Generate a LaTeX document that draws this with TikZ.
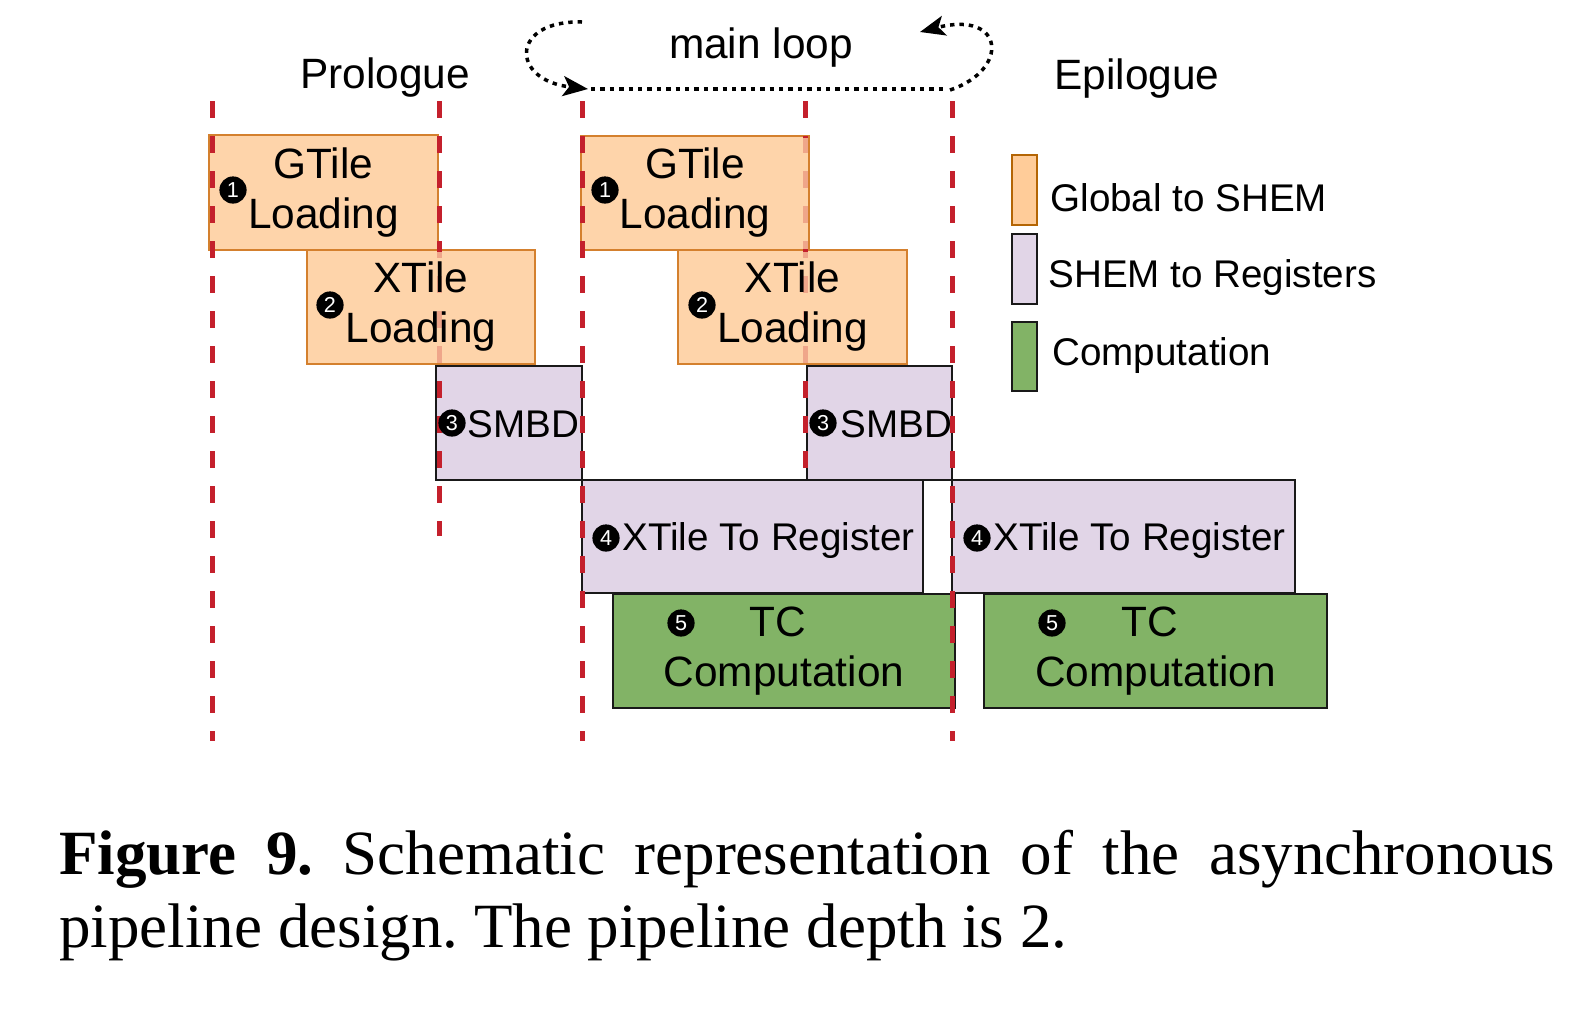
\documentclass[tikz,border=0pt]{standalone}
\usepackage{fontspec}
\setmainfont{Liberation Serif}
\newfontfamily\arialf{Liberation Sans}
\usetikzlibrary{arrows.meta,fit}
\definecolor{ofill}{RGB}{254,212,170}
\definecolor{odraw}{RGB}{212,128,46}
\definecolor{lofill}{RGB}{255,204,153}
\definecolor{lodraw}{RGB}{180,101,4}
\definecolor{pfill}{RGB}{225,213,231}
\definecolor{gfill}{RGB}{130,179,102}
\definecolor{rline}{RGB}{196,32,44}
\pgfdeclarelayer{lines}
\pgfdeclarelayer{top}
\pgfsetlayers{main,lines,top}
\frenchspacing
\begin{document}
\begin{tikzpicture}[x=0.5pt,y=-0.5pt,
  obox/.style={draw=odraw, fill=ofill, line width=1pt, inner sep=0pt},
  pbox/.style={draw=black!90, fill=pfill, line width=1.2pt, inner sep=0pt},
  gbox/.style={draw=black!90, fill=gfill, line width=1.2pt, inner sep=0pt},
  bigtxt/.style={font=\arialf\fontsize{21.2}{25}\selectfont, align=center, inner sep=0pt},
  midtxt/.style={font=\arialf\fontsize{19.3}{23}\selectfont, inner sep=0pt},
  numc/.style={circle, fill=black, text=white, minimum size=13.6pt, inner sep=0pt, font=\arialf\fontsize{10.8}{12}\selectfont},
  redline/.style={draw=rline, line width=2.5pt, dash pattern=on 8.5pt off 9pt},
  fade/.style={fill=ofill, fill opacity=0.75, draw=none},
  loopline/.style={line width=1.75pt, dash pattern=on 2.2pt off 2.5pt},
  looptip/.style={-{Stealth[length=12.5pt,width=10pt,inset=3pt]}},
  captxt/.style={anchor=base west, inner sep=0pt, font=\frenchspacing\fontsize{31.5}{37}\selectfont}
]
\useasboundingbox (0,0) rectangle (1596,1008);
\fill[white] (0,0) rectangle (1596,1008);

% boxes
\node[obox, fit={(209,135)(438,250)}] (g1) {};
\node[obox, fit={(307,250)(535,364)}] (x1) {};
\node[pbox, fit={(436,366)(582,480)}] (s1) {};
\node[pbox, fit={(582,480)(923,593)}] (r1) {};
\node[gbox, fit={(613,594)(955,708)}] (t1) {};
\node[obox, fit={(581,136)(809,250)}] (g2) {};
\node[obox, fit={(678,250)(907,364)}] (x2) {};
\node[pbox, fit={(807,366)(952,480)}] (s2) {};
\node[pbox, fit={(952,480)(1295,593)}] (r2) {};
\node[gbox, fit={(984,594)(1327,708)}] (t2) {};

% legend boxes
\node[obox, draw=lodraw, fill=lofill, fit={(1012,155)(1037,225)}] (lg1) {};
\node[pbox, fit={(1012,234)(1037,304)}] (lg2) {};
\node[gbox, fit={(1012,322)(1037,391)}] (lg3) {};

\begin{pgfonlayer}{lines}
\coordinate (d1t) at (212,101); \coordinate (d1b) at (212,741);
\coordinate (d2t) at (439,101); \coordinate (d2b) at (439,536);
\coordinate (d3t) at (582,101); \coordinate (d3b) at (582,741);
\coordinate (d4t) at (805,101); \coordinate (d4b) at (805,470);
\coordinate (d5t) at (952,101); \coordinate (d5b) at (952,741);
\draw[redline] (d1t) -- (d1b);
\draw[redline] (d2t) -- (d2b);
\draw[redline] (d3t) -- (d3b);
\draw[redline] (d4t) -- (d4b);
\draw[redline] (d5t) -- (d5b);
\fill[fade] (435,251.5) rectangle (443,362.5);
\fill[fade] (801,137.5) rectangle (808,248.5);
\fill[fade] (801,251.5) rectangle (809,362.5);
\end{pgfonlayer}

\begin{pgfonlayer}{top}
% headers
\node[bigtxt, anchor=base] (prol) at (385,88) {Prologue};
\node[bigtxt, anchor=base] (mloop) at (761,58) {main loop};
\node[bigtxt, anchor=base] (epil) at (1137,89) {Epilogue};

% box texts
\node[bigtxt] (g1t) at (g1) {GTile\\Loading};
\node[bigtxt] (x1t) at (x1) {XTile\\Loading};
\node[bigtxt] (g2t) at (g2) {GTile\\Loading};
\node[bigtxt] (x2t) at (x2) {XTile\\Loading};
\node[bigtxt] (t1t) at (t1) {\hspace*{-6pt}TC\\Computation};
\node[bigtxt] (t2t) at (t2) {\hspace*{-6pt}TC\\Computation};
\node[midtxt, anchor=base west] (s1t) at (467,437) {SMBD};
\node[midtxt, anchor=base west] (s2t) at (840,437) {SMBD};
\node[midtxt, anchor=base west] (r1t) at (622,550) {XTile To Register};
\node[midtxt, anchor=base west] (r2t) at (993,550) {XTile To Register};

% circled numbers
\node[numc] (n1a) at (233,190) {1};
\node[numc] (n2a) at (330,305) {2};
\node[numc] (n3a) at (452,423) {3};
\node[numc] (n4a) at (606,538) {4};
\node[numc] (n5a) at (681,623) {5};
\node[numc] (n1b) at (605,190) {1};
\node[numc] (n2b) at (702,305) {2};
\node[numc] (n3b) at (823,423) {3};
\node[numc] (n4b) at (977,538) {4};
\node[numc] (n5b) at (1052,623) {5};

% legend texts
\node[midtxt, anchor=base west] (lt1) at (1050,211) {Global to SHEM};
\node[midtxt, anchor=base west] (lt2) at (1048,287) {SHEM to Registers};
\node[midtxt, anchor=base west] (lt3) at (1052,365) {Computation};

% main loop
\coordinate (la) at (582,22);
\coordinate (lb) at (588,89);
\coordinate (ha) at (591,89);
\coordinate (hb) at (946,89);
\coordinate (ra) at (950,90);
\coordinate (rb) at (920,32);
\draw[loopline, looptip] (la) .. controls (510,20) and (510,80) .. (lb);
\draw[loopline] (ha) -- (hb);
\draw[loopline, looptip] (ra) .. controls (1010,70) and (1005,10) .. (rb);

% caption
\node[captxt] (cap1) at (59,874) {\makebox[748pt][s]{\textbf{Figure 9.} Schematic representation of the asynchronous}};
\node[captxt] (cap2) at (59,947) {pipeline design. The pipeline depth is 2.};
\end{pgfonlayer}
\end{tikzpicture}
\end{document}
